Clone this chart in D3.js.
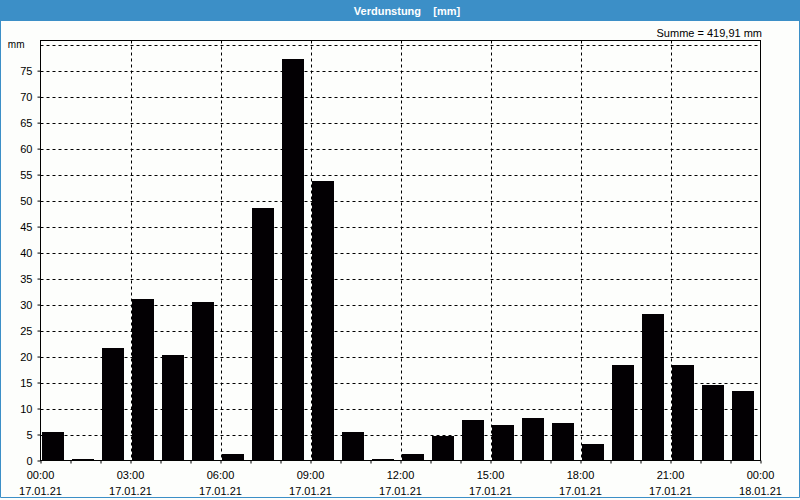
<!DOCTYPE html>
<html><head><meta charset="utf-8">
<script src="https://cdn.jsdelivr.net/npm/d3@7"></script>
<style>body{margin:0;background:#fff}svg{display:block}</style>
</head><body>
<svg id="c" width="800" height="500"></svg>
<script>
// Data: hourly evaporation, 17.01.21 00:00 .. 23:00
const hours = [0,1,2,3,4,5,6,7,8,9,10,11,12,13,14,15,16,17,18,19,20,21,22,23];
const values = [5.5,0.3,21.7,31.1,20.3,30.4,1.3,48.6,77.3,53.8,5.4,0.3,1.3,4.75,7.8,6.9,8.2,7.3,3.2,18.4,28.2,18.4,14.6,13.4];
const yTicks = [0,5,10,15,20,25,30,35,40,45,50,55,60,65,70,75];
const xLabelHours = [0,3,6,9,12,15,18,21,24];
const titleText = "Verdunstung\u00a0\u00a0\u00a0\u00a0[mm]";
const sumText = "Summe = 419,91 mm";
const unitText = "mm";

const svg = d3.select("#c");
const W = 800, H = 500;
const L = 40.5, R = 760.5, T = 40.5, B = 460.5;
const blue = "#3c8fc7";
const font = "'Liberation Sans', Arial, sans-serif";

svg.append("rect").attr("width", W).attr("height", H).attr("fill", "#fdfefc");
// title bar
svg.append("rect").attr("x",0).attr("y",0).attr("width",W).attr("height",21).attr("fill",blue);
svg.append("text").attr("x",407).attr("y",14.5).attr("text-anchor","middle")
  .attr("fill","#fff").attr("font-family",font).attr("font-size",11).attr("font-weight","bold")
  .text(titleText);
// window border
svg.append("path").attr("d",`M0.5,21 V497.5 H799.5 V21`).attr("fill","none").attr("stroke",blue).attr("stroke-width",1);

const t0 = new Date(2021,0,17,0,0);
const x = d3.scaleTime().domain([t0, d3.timeHour.offset(t0,24)]).range([L, R]);
const y = d3.scaleLinear().domain([0, 80.8]).range([B, T]);
const hr = h => d3.timeHour.offset(t0, h);

// grid
const grid = svg.append("g").attr("stroke","#000").attr("stroke-width",1).attr("stroke-dasharray","3,3");
d3.range(5, 81, 5).forEach(v => {
  const yy = Math.round(y(v)) + 0.5;
  grid.append("line").attr("x1",L).attr("x2",R).attr("y1",yy).attr("y2",yy);
});
[3,6,9,12,15,18,21].forEach(h => {
  const xx = Math.round(x(hr(h))) + 0.5;
  grid.append("line").attr("x1",xx).attr("x2",xx).attr("y1",T).attr("y2",B);
});

// bars
svg.append("g").selectAll("rect").data(hours).join("rect")
  .attr("x", (h) => Math.round(x(hr(h))) + 1)
  .attr("width", (h) => Math.round(x(hr(h+1)) - x(hr(h))) - 8)
  .attr("y", (h,i) => Math.round(y(values[i])))
  .attr("height", (h,i) => Math.round(y(0)) - Math.round(y(values[i])))
  .attr("fill","#030003");

// frame
svg.append("rect").attr("x",L).attr("y",T).attr("width",R-L).attr("height",B-T)
  .attr("fill","none").attr("stroke","#000");

// x axis ticks (hourly) and labels
const xAxis = d3.axisBottom(x).ticks(d3.timeHour.every(1)).tickSize(3).tickFormat("");
const gx = svg.append("g").attr("transform",`translate(0,${B})`).call(xAxis);
gx.select(".domain").remove();
gx.selectAll(".tick line").attr("stroke","#000");
const fmtT = d3.timeFormat("%H:%M"), fmtD = d3.timeFormat("%d.%m.%y");
const xl = svg.append("g").attr("font-family",font).attr("font-size",11).attr("fill","#000").attr("text-anchor","middle");
xLabelHours.forEach(h => {
  const d = hr(h), xx = x(d);
  xl.append("text").attr("x",xx).attr("y",479).text(fmtT(d));
  xl.append("text").attr("x",xx).attr("y",494.5).text(fmtD(d));
});

// y axis
const yAxis = d3.axisLeft(y).tickValues(yTicks).tickSize(3).tickPadding(5).tickFormat(d3.format("d"));
const gy = svg.append("g").attr("transform",`translate(${L},0)`).call(yAxis);
gy.select(".domain").remove();
gy.selectAll(".tick line").attr("stroke","#000");
gy.selectAll(".tick text").attr("font-family",font).attr("font-size",11).attr("fill","#000").attr("dy","0.35em");
svg.append("text").attr("x",24.5).attr("y",y(80)).attr("dy","0.32em").attr("text-anchor","end")
  .attr("font-family","'Liberation Sans Narrow', 'Liberation Sans', Arial, sans-serif").attr("font-size",10).attr("fill","#000").text(unitText);

// sum label
svg.append("text").attr("x",762).attr("y",37).attr("text-anchor","end")
  .attr("font-family",font).attr("font-size",11).attr("fill","#000").text(sumText);
</script>
</body></html>
